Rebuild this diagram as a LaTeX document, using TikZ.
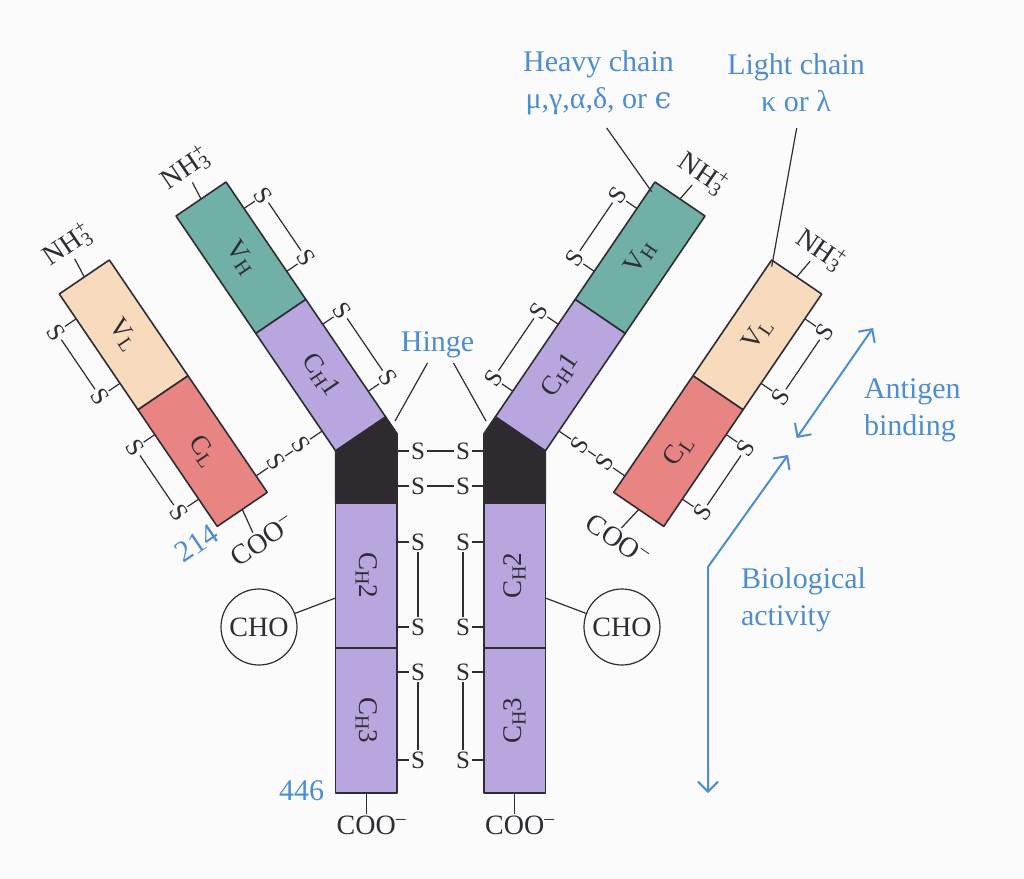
\documentclass[tikz,border=0pt]{standalone}
\usepackage{fontspec}
\setmainfont{Liberation Serif}
\newfontfamily\epsfont{DejaVu Serif}
\usetikzlibrary{arrows.meta}
\definecolor{abline}{RGB}{48,44,52}
\definecolor{abblue}{RGB}{78,142,208}
\definecolor{vlight}{RGB}{248,219,188}
\definecolor{clight}{RGB}{232,132,130}
\definecolor{vheavy}{RGB}{112,176,166}
\definecolor{cheavy}{RGB}{184,167,222}
\definecolor{hingedark}{RGB}{46,42,48}
\definecolor{pagebg}{RGB}{251,251,252}
\newcommand{\dsub}[1]{\raisebox{-0.3ex}{\fontsize{10}{10}\selectfont #1}}
\newcommand{\amino}{NH\rlap{\textsuperscript{+}}\textsubscript{3}}
\newcommand{\carboxy}{COO\rlap{\textsuperscript{--}}}

\begin{document}
\begin{tikzpicture}[x=0.5pt, y=-0.5pt, color=abline,
    block/.style={draw=abline, line width=0.8pt, line join=round},
    bond/.style={abline, line width=0.6pt},
    sulf/.style={font=\fontsize{12.5}{12.5}\selectfont, inner sep=0.8pt},
    dom/.style={font=\fontsize{13.5}{14}\selectfont, inner sep=0pt},
    term/.style={font=\fontsize{14}{14}\selectfont, inner sep=1pt},
    bluelbl/.style={font=\fontsize{15}{18.3}\selectfont, text=abblue},
    bluearrow/.style={abblue, line width=1pt, {Straight Barb[length=5pt,width=10pt]}-{Straight Barb[length=5pt,width=10pt]}}]
  \fill[pagebg] (0,0) rectangle (1024,879);
  \useasboundingbox (0,0) rectangle (1024,879);

  % both halves of the Y, the right one mirrored
  \foreach \sd/\sn in {1/l,-1/r} {
    \begin{scope}[shift={({440.5*(1-(\sd))},0)}, xscale=\sd]
      % light chain
      \begin{scope}[shift={(59.3,294)}, rotate=34.2]
        \filldraw[block, fill=vlight] (0,0) rectangle (60.5,140);
        \filldraw[block, fill=clight] (0,140) rectangle (60.5,281);
        \node[dom, rotate={-55.8*(\sd)}] (vl\sn) at (30.25,70) {V\dsub{L}};
        \node[dom, rotate={-55.8*(\sd)}] (cl\sn) at (30.25,210.5) {C\dsub{L}};
        \foreach \tp/\sk in {30/1,108/2,170/3,248/4} {
          \coordinate (le\sk\sn) at (0,\tp);
          \node[sulf, rotate={-55.8*(\sd)}] (ls\sk\sn) at (-24,\tp) {S};
          \draw[bond] (le\sk\sn) -- (ls\sk\sn);
        }
        \draw[bond] (ls1\sn) -- (ls2\sn);
        \draw[bond] (ls3\sn) -- (ls4\sn);
        \coordinate (lt\sn) at (30.25,0);
        \node[term, rotate={34.2*(\sd)}] (ln\sn) at ({30.25+4*(\sd)},-36) {\amino};
        \draw[bond] (lt\sn) -- (ln\sn);
        \coordinate (lb\sn) at (30.25,281);
        \node[term, rotate={34.2*(\sd)}] (lc\sn) at ({30-6*(\sd)},318) {\carboxy};
        \draw[bond] (lb\sn) -- (lc\sn);
      \end{scope}
      % heavy chain arm
      \begin{scope}[shift={(176,216)}, rotate=34.2]
        \filldraw[block, fill=vheavy] (0,0) rectangle (60.5,142);
        \filldraw[block, fill=cheavy] (0,142) rectangle (60.5,284);
        \node[dom, rotate={-55.8*(\sd)}] (vh\sn) at (30.25,71) {V\dsub{H}};
        \node[dom, rotate={-55.8*(\sd)}] (cha\sn) at (30.25,213) {C\dsub{H}1};
        \foreach \tp/\sk in {32/1,108/2,172/3,253/4} {
          \coordinate (he\sk\sn) at (60.5,\tp);
          \node[sulf, rotate={-55.8*(\sd)}] (hs\sk\sn) at (84,\tp) {S};
          \draw[bond] (he\sk\sn) -- (hs\sk\sn);
        }
        \draw[bond] (hs1\sn) -- (hs2\sn);
        \draw[bond] (hs3\sn) -- (hs4\sn);
        % bond to the light chain
        \coordinate (ie\sn) at (0,260);
        \coordinate (je\sn) at (-79.8,260);
        \node[sulf, rotate={-55.8*(\sd)}] (is\sn) at (-25,260) {S};
        \node[sulf, rotate={-55.8*(\sd)}] (js\sn) at (-55,260) {S};
        \draw[bond] (ie\sn) -- (is\sn) -- (js\sn) -- (je\sn);
        \coordinate (ht\sn) at (30.25,0);
        \node[term, rotate={34.2*(\sd)}] (hn\sn) at ({30.25+4*(\sd)},-34) {\amino};
        \draw[bond] (ht\sn) -- (hn\sn);
        \coordinate (hga\sn) at (0,284);
        \coordinate (hgb\sn) at (60.5,284);
        \coordinate (hgc\sn) at (60.5,304.3);
      \end{scope}
      % hinge and stem
      \filldraw[block, fill=hingedark] (hga\sn) -- (hgb\sn) -- (hgc\sn) -- (397,503) -- (335.6,503) -- cycle;
      \filldraw[block, fill=cheavy] (335.6,503) rectangle (397,648);
      \filldraw[block, fill=cheavy] (335.6,648) rectangle (397,793);
      \node[dom, rotate={-90*(\sd)}] (chb\sn) at (366.3,575.5) {C\dsub{H}2};
      \node[dom, rotate={-90*(\sd)}] (chc\sn) at (366.3,720.5) {C\dsub{H}3};
      \foreach \yp/\sk in {451/1,486/2,542/3,627/4,672/5,760/6} {
        \coordinate (se\sk\sn) at (397,\yp);
        \node[sulf] (ss\sk\sn) at (418,\yp) {S};
        \draw[bond] (se\sk\sn) -- (ss\sk\sn);
      }
      \draw[bond] (ss3\sn) -- (ss4\sn);
      \draw[bond] (ss5\sn) -- (ss6\sn);
      \node[term, draw, line width=0.6pt, circle, minimum size=38pt, inner sep=0pt] (cho\sn) at (259,627) {CHO};
      \coordinate (cs\sn) at (335.6,598);
      \draw[bond] (cho\sn) -- (cs\sn);
      \coordinate (sb\sn) at (366.3,793);
      \node[term, anchor=north] (sc\sn) at (366.3,814) {\carboxy};
      \draw[bond] (sb\sn) -- (sc\sn);
      \coordinate (hgp\sn) at (427.5,363);
      \coordinate (hgq\sn) at (395,421);
      \draw[bond] (hgp\sn) -- (hgq\sn);
    \end{scope}
  }
  \draw[bond] (ss1l) -- (ss1r);
  \draw[bond] (ss2l) -- (ss2r);

  % blue labels
  \node[bluelbl] (hinge) at (437.5,345) {Hinge};
  \node[bluelbl, align=center] (heavy) at (598.5,83) {Heavy chain\\μ,γ,α,δ, or {\epsfont ϵ}};
  \node[bluelbl, align=center] (light) at (796,83) {Light chain\\κ or λ};
  \node[bluelbl, align=left, anchor=west] (antigen) at (857,410) {Antigen\\binding};
  \node[bluelbl, align=left, anchor=west] (bioact) at (734,600) {Biological\\activity};
  \node[bluelbl, rotate=34.2] (n214) at (196.7,543) {214};
  \node[bluelbl] (n446) at (301.7,791) {446};
  \coordinate (hvs) at (606.7,128);
  \coordinate (hve) at (651.7,191.7);
  \coordinate (lts) at (796.7,128);
  \coordinate (lte) at (771.7,266.7);
  \draw[bond] (hvs) -- (hve);
  \draw[bond] (lts) -- (lte);
  \coordinate (ag1) at (796.7,438);
  \coordinate (ag2) at (873,328);
  \draw[bluearrow] (ag1) -- (ag2);
  \coordinate (bi1) at (788,455);
  \coordinate (bi2) at (708,567);
  \coordinate (bi3) at (708,793);
  \draw[bluearrow] (bi1) -- (bi2) -- (bi3);
\end{tikzpicture}
\end{document}
